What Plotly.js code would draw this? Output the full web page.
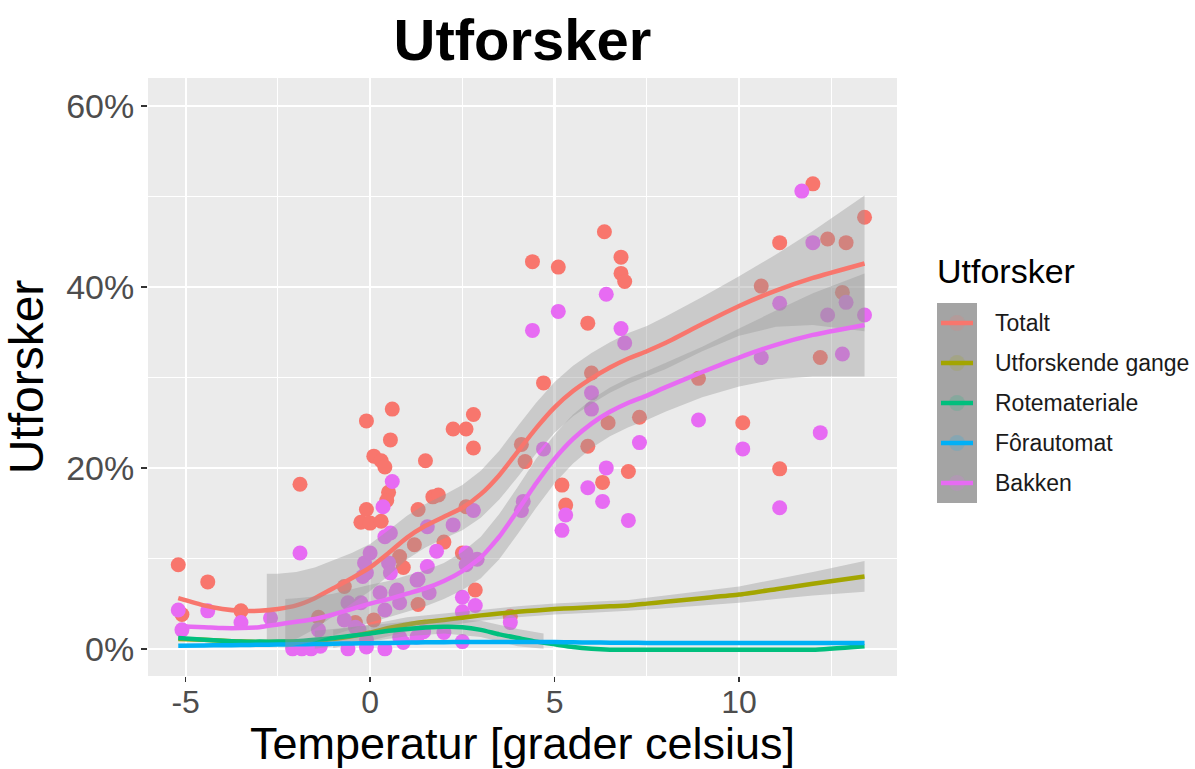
<!DOCTYPE html>
<html>
<head>
<meta charset="utf-8">
<script src="https://cdn.plot.ly/plotly-3.0.1.min.js"></script>
<style>html,body{margin:0;padding:0;background:#fff;}#chart{width:1195px;height:769px;}</style>
</head>
<body>
<div id="chart"></div>
<script>
// ---- data ----
const seriesNames = ["Totalt", "Utforskende gange", "Rotemateriale", "Fôrautomat", "Bakken"];
const seriesColors = ["#F8766D", "#A3A500", "#00BF7D", "#00B0F6", "#E76BF3"];

const totaltX = [-5.2,-4.4,-3.5,-5.1,-1.9,-0.1,0.6,0.55,0.1,0.3,0.4,0.5,0.45,-0.1,-0.25,0.0,0.3,1.5,2.8,2.25,2.6,2.8,1.7,1.85,1.3,2.6,1.2,2.0,0.8,0.9,2.85,1.3,2.5,4.4,5.1,6.8,6.8,6.9,5.9,4.7,6.0,4.1,4.2,5.9,6.45,7.3,7.0,6.3,5.2,5.3,6.35,3.8,12.0,13.4,11.1,12.4,12.9,10.6,12.8,8.9,10.1,12.2,11.1,-0.7,-1.4,-0.4,0.1];
const totaltY = [9.3,7.4,4.2,3.8,18.2,25.2,26.5,23.1,21.3,20.8,20.1,17.3,16.4,15.4,14.0,13.9,14.1,20.8,25.9,24.3,24.3,22.2,16.8,17.0,15.4,15.7,11.5,11.8,10.2,9.0,6.5,4.9,10.6,42.8,42.2,43.3,41.5,40.6,36.0,29.4,30.5,22.6,20.7,22.4,25.0,25.6,19.6,18.4,18.1,15.9,46.1,3.6,51.4,47.7,44.9,45.3,44.9,40.1,39.4,29.9,25.0,32.2,19.9,6.9,3.5,2.9,3.2];

const bakkenX = [11.7,12.0,11.1,12.9,12.4,13.4,10.6,12.8,8.9,10.1,12.2,11.1,7.3,6.4,5.1,4.4,6.8,6.9,6.0,6.0,4.7,6.4,5.9,6.3,7.0,5.3,5.2,4.15,4.1,2.8,2.25,1.55,1.8,2.6,2.9,2.6,1.3,1.6,2.5,2.85,2.5,3.8,1.45,2.0,2.5,0.8,-5.2,-5.1,-4.4,-3.5,-2.7,-1.9,-2.1,-1.85,-1.6,-1.35,-1.4,-0.6,-0.1,0.4,0.4,-0.25,-0.4,-0.1,-0.15,0.0,0.4,0.55,0.35,0.6,0.5,0.27,0.7,-0.2,0.55,0.73,0.8,1.27,-0.6,-0.7,-0.3,-0.1,0.9,1.27,1.55];
const bakkenY = [50.6,44.9,38.2,38.3,36.9,36.9,32.2,32.6,25.3,22.1,23.9,15.6,22.8,39.2,37.3,35.2,35.4,33.8,28.3,26.5,22.1,20.0,17.8,16.3,14.2,14.8,13.1,16.3,15.3,15.3,13.7,13.5,10.8,10.6,9.9,9.3,7.7,6.2,5.7,4.8,4.1,2.9,1.9,1.8,0.8,1.3,4.3,2.1,4.2,2.9,3.4,10.6,0.0,0.0,0.0,0.3,2.1,0.0,0.2,0.0,4.3,5.1,2.4,8.4,9.5,10.6,12.4,12.8,15.7,18.5,9.5,6.2,6.2,8.0,8.4,6.5,5.1,7.6,5.1,3.2,2.1,1.0,0.7,1.3,9.1];

// smoothed curves, read at these temperatures
const smoothX = [-5.2,-4.5,-4,-3.5,-3,-2.5,-2,-1.5,-1,-0.5,0,0.5,1,1.5,2,2.5,3,3.5,4,4.5,5,5.5,6,6.5,7,7.5,8,9,10,11,12,13.4];
const smoothTotalt = [5.6,4.8,4.4,4.2,4.2,4.4,4.8,5.6,6.7,7.8,9.0,10.6,12.3,13.6,14.6,15.6,17.1,19.2,21.8,24.4,26.7,28.5,29.9,31.1,32.1,32.9,33.8,35.9,37.9,39.6,41.0,42.6];
const smoothGange = [1.1,1.0,0.9,0.8,0.75,0.75,0.8,0.9,1.1,1.4,1.8,2.3,2.7,3.0,3.2,3.45,3.7,3.9,4.1,4.25,4.4,4.5,4.6,4.7,4.8,5.0,5.2,5.6,6.0,6.6,7.2,8.0];
const smoothRote = [1.2,1.0,0.9,0.8,0.8,0.8,0.85,1.0,1.2,1.45,1.7,2.0,2.2,2.35,2.45,2.4,2.1,1.6,1.2,0.8,0.5,0.2,0.0,-0.1,-0.1,-0.1,-0.1,-0.1,-0.1,-0.1,-0.1,0.3];
const smoothFor = [0.35,0.38,0.4,0.42,0.45,0.48,0.5,0.53,0.56,0.6,0.63,0.66,0.7,0.72,0.74,0.75,0.76,0.76,0.76,0.75,0.75,0.72,0.7,0.68,0.67,0.66,0.65,0.64,0.64,0.64,0.65,0.66];
const smoothBakken = [2.5,2.4,2.3,2.3,2.4,2.7,3.0,3.3,3.8,4.4,5.0,5.5,6.1,6.7,7.5,8.6,10.1,12.4,15.3,18.3,21.0,23.2,24.9,26.2,27.2,28.0,28.9,30.6,32.2,33.6,34.7,35.8];

// confidence bands (visible part)
const bandTotaltX = [-2.8,-2.5,-2,-1.5,-1,-0.5,0,0.5,1,1.5,2,2.5,3,3.5,4,4.5,5,5.5,6,6.5,7,7.5,8,9,10,11,12,13.4];
const bandTotaltUpper = [8.3,8.3,8.5,9.0,9.8,10.6,11.6,13.1,14.7,16.0,17.0,18.1,19.7,21.9,24.6,27.2,29.5,31.3,32.7,33.9,34.9,35.7,36.7,38.9,41.2,43.6,46.2,50.1];
const bandTotaltLower = [0.3,0.5,1.1,2.2,3.6,5.0,6.4,8.1,9.9,11.2,12.2,13.1,14.5,16.5,19.0,21.6,23.9,25.7,27.1,28.3,29.3,30.1,30.9,32.9,34.6,35.6,35.8,35.1];
const bandGangeX = [-1,0,1,2,3,4,5,6,7,8,9,10,11,12,13.4];
const bandGangeUpper = [2.1,2.7,3.5,3.9,4.3,4.7,5.0,5.2,5.4,5.9,6.4,6.9,7.7,8.5,9.7];
const bandGangeLower = [0.1,0.9,1.9,2.5,3.1,3.5,3.8,4.0,4.2,4.5,4.8,5.1,5.5,5.9,6.3];
const bandRoteX = [-1.5,-1,0,1,2,3,4,4.7];
const bandRoteUpper = [2.0,2.2,2.6,3.0,3.3,3.1,2.2,1.7];
const bandRoteLower = [0.0,0.3,0.8,1.4,1.7,1.3,0.3,0.0];
const bandBakkenX = [-2.3,-2,-1.5,-1,-0.5,0,0.5,1,1.5,2,2.5,3,3.5,4,4.5,5,5.5,6,6.5,7,7.5,8,9,10,11,12,13.4];
const bandBakkenUpper = [5.5,5.6,5.8,6.1,6.6,7.1,7.5,8.1,8.7,9.5,10.7,12.4,14.9,17.9,21.0,23.7,25.9,27.6,28.9,29.9,30.7,31.6,33.4,35.4,37.4,39.3,41.5];
const bandBakkenLower = [0.1,0.4,0.8,1.5,2.2,2.9,3.5,4.1,4.7,5.5,6.5,7.8,9.9,12.7,15.6,18.3,20.5,22.2,23.5,24.5,25.3,26.2,27.8,29.0,29.8,30.1,30.1];

const xTicks = [-5, 0, 5, 10];
const xTickLabels = ["-5", "0", "5", "10"];
const yTicks = [0, 20, 40, 60];
const yTickLabels = ["0%", "20%", "40%", "60%"];

// ---- traces ----
function pointTrace(x, y, color, name) {
  return {type:'scatter', mode:'markers', x:x, y:y, name:name, showlegend:false, hoverinfo:'x+y',
    marker:{color:color, size:15, line:{width:0}}};
}
function bandTrace(x, lo, hi) {
  const xs = x.concat(x.slice().reverse());
  const ys = hi.concat(lo.slice().reverse());
  return {type:'scatter', mode:'none', x:xs, y:ys, fill:'toself', fillcolor:'rgba(153,153,153,0.4)',
    line:{width:0}, showlegend:false, hoverinfo:'skip'};
}
function lineTrace(y, color, name) {
  return {type:'scatter', mode:'lines', x:smoothX, y:y, name:name, showlegend:false,
    line:{color:color, width:4.5, shape:'spline', smoothing:0.5}};
}

const traces = [
  pointTrace(totaltX, totaltY, seriesColors[0], seriesNames[0]),
  pointTrace(bakkenX, bakkenY, seriesColors[4], seriesNames[4]),
  bandTrace(bandTotaltX, bandTotaltLower, bandTotaltUpper),
  lineTrace(smoothTotalt, seriesColors[0], seriesNames[0]),
  bandTrace(bandGangeX, bandGangeLower, bandGangeUpper),
  lineTrace(smoothGange, seriesColors[1], seriesNames[1]),
  bandTrace(bandRoteX, bandRoteLower, bandRoteUpper),
  lineTrace(smoothRote, seriesColors[2], seriesNames[2]),
  lineTrace(smoothFor, seriesColors[3], seriesNames[3]),
  bandTrace(bandBakkenX, bandBakkenLower, bandBakkenUpper),
  lineTrace(smoothBakken, seriesColors[4], seriesNames[4])
];

// ---- custom ggplot-style legend ----
const W = 1195, H = 769;
const shapes = [];
const annotations = [];
const legLeft = 937, legTop = 303, keyH = 40, keyW = 40;
function fx(v){ return (v - 148) / (897 - 148); }
function fy(v){ return (676 - v) / (676 - 78); }
shapes.push({type:'rect', xref:'paper', yref:'paper', x0:fx(legLeft), x1:fx(legLeft+keyW), y0:fy(legTop+keyH*seriesNames.length), y1:fy(legTop), fillcolor:'#A4A4A4', line:{width:0}, layer:'above'});
seriesNames.forEach((n, i) => {
  const cy = legTop + keyH*i + keyH/2;
  shapes.push({type:'circle', xref:'paper', yref:'paper', x0:fx(legLeft+12), x1:fx(legLeft+28), y0:fy(cy+8), y1:fy(cy-8), fillcolor:seriesColors[i], opacity:0.18, line:{width:0}, layer:'above'});
  shapes.push({type:'line', xref:'paper', yref:'paper', x0:fx(legLeft+4), x1:fx(legLeft+36), y0:fy(cy), y1:fy(cy), line:{color:seriesColors[i], width:4.5}, layer:'above'});
  annotations.push({xref:'paper', yref:'paper', x:fx(legLeft+56), y:fy(cy), xanchor:'left', yanchor:'middle', showarrow:false, text:n, font:{family:'Liberation Sans, Arial, sans-serif', size:23, color:'#1A1A1A'}});
});
annotations.push({xref:'paper', yref:'paper', x:fx(legLeft-2), y:fy(271), xanchor:'left', yanchor:'middle', showarrow:false, text:'Utforsker', font:{family:'Liberation Sans, Arial, sans-serif', size:34, color:'#000'}});

const layout = {
  width: W, height: H,
  paper_bgcolor:'#FFFFFF', plot_bgcolor:'#EBEBEB',
  margin:{l:148, r:298, t:78, b:93, pad:0},
  font:{family:'Liberation Sans, Arial, sans-serif'},
  title:{text:'<b>Utforsker</b>', x:0.5, xref:'paper', xanchor:'center', y:1 - 40/H, yref:'container', yanchor:'middle',
    font:{size:58, color:'#000', family:'Liberation Sans, Arial, sans-serif'}},
  xaxis:{range:[-6.02, 14.28], tickmode:'array', tickvals:xTicks, ticktext:xTickLabels, showgrid:true, gridcolor:'#FFFFFF', gridwidth:2.2,
    zeroline:false, showline:false, ticks:'outside', ticklen:5, tickwidth:1.5, tickcolor:'#333333', ticklabelstandoff:-7,
    tickfont:{size:32, color:'#4D4D4D'},
    minor:{tickvals:[-2.5, 2.5, 7.5, 12.5], showgrid:true, gridcolor:'#FFFFFF', gridwidth:1.1, ticks:''},
    title:{text:'Temperatur [grader celsius]', font:{size:45, color:'#000'}, standoff:16}},
  yaxis:{range:[-3.0, 63.1], tickmode:'array', tickvals:yTicks, ticktext:yTickLabels, showgrid:true, gridcolor:'#FFFFFF', gridwidth:2.2,
    zeroline:false, showline:false, ticks:'outside', ticklen:6, tickwidth:1.5, tickcolor:'#333333',
    tickfont:{size:34, color:'#4D4D4D'},
    minor:{tickvals:[10, 30, 50], showgrid:true, gridcolor:'#FFFFFF', gridwidth:1.1, ticks:''},
    title:{text:'Utforsker', font:{size:48, color:'#000'}, standoff:10}},
  showlegend:false,
  shapes: shapes,
  annotations: annotations,
  hovermode:'closest'
};

Plotly.newPlot('chart', traces, layout, {displayModeBar:false, staticPlot:true});
</script>
</body>
</html>
